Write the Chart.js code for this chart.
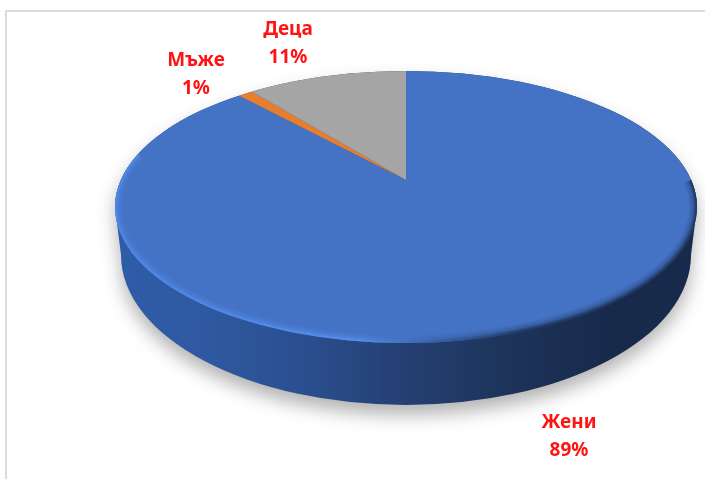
<!DOCTYPE html>
<html><head><meta charset="utf-8">
<style>html,body{margin:0;padding:0;background:#fff}canvas{display:block}</style>
<script src="https://cdn.jsdelivr.net/npm/chart.js@4"></script></head>
<body><canvas id="c" width="705" height="479"></canvas>
<script>
const categories = ['Жени', 'Мъже', 'Деца'];
const shares = [89, 1, 11];
const sliceColors = ['#4472c4', '#e67e2e', '#a5a5a5'];

// Drawing geometry of the tilted disc (not data)
const face = {cx: 406, cy: 207, rx: 291, ry: 136};
const base = {cx: 406, cy: 255, rx: 285, ry: 150};
const tilt = 136 / 291;
const labelCentres = [[569, 423], [196, 61], [288, 30]];

function wallPath(ctx) {
  ctx.beginPath();
  ctx.moveTo(face.cx - face.rx, face.cy);
  ctx.lineTo(base.cx - base.rx, base.cy);
  ctx.ellipse(base.cx, base.cy, base.rx, base.ry, 0, Math.PI, 0, true);
  ctx.lineTo(face.cx + face.rx, face.cy);
  ctx.ellipse(face.cx, face.cy, face.rx, face.ry, 0, 0, Math.PI, true);
  ctx.closePath();
}

const disc3d = {
  id: 'disc3d',
  beforeDraw(chart) {
    const ctx = chart.ctx;
    ctx.save();
    ctx.fillStyle = '#fff';
    ctx.fillRect(0, 0, 705, 479);
    ctx.fillStyle = '#dcdcdc';
    ctx.fillRect(5, 10, 700, 2);
    ctx.fillRect(5, 10, 2, 469);
    ctx.restore();
  },
  beforeDatasetsDraw(chart) {
    const ctx = chart.ctx;
    // soft shadow + side wall
    const g = ctx.createLinearGradient(115, 0, 697, 0);
    g.addColorStop(0, '#2f5ca8');
    g.addColorStop(0.14, '#2f5aa2');
    g.addColorStop(0.32, '#2b4f90');
    g.addColorStop(0.5, '#243f72');
    g.addColorStop(0.68, '#1d3359');
    g.addColorStop(0.85, '#182a4c');
    g.addColorStop(1, '#182a4c');
    ctx.save();
    ctx.shadowColor = 'rgba(0,0,0,0.3)';
    ctx.shadowBlur = 18;
    ctx.shadowOffsetY = 10;
    ctx.fillStyle = g;
    wallPath(ctx);
    ctx.fill();
    ctx.restore();

    // pie arcs from the library, tilted and trimmed to the disc's top face
    const arc = chart.getDatasetMeta(0).data[0];
    ctx.save();
    ctx.beginPath();
    ctx.ellipse(face.cx, face.cy, face.rx, face.ry, 0, 0, Math.PI * 2);
    ctx.clip();
    ctx.translate(arc.x, arc.y);
    ctx.scale(1, tilt);
    ctx.translate(-arc.x, -arc.y);
  },
  afterDatasetsDraw(chart) {
    const ctx = chart.ctx;
    ctx.restore();
    // bevel along the front edge of the top face
    ctx.save();
    ctx.beginPath();
    ctx.ellipse(face.cx, face.cy, face.rx, face.ry, 0, 0, Math.PI * 2);
    ctx.clip();
    const layers = [[16, 0.1], [12, 0.14], [8, 0.24], [5, 0.35], [3, 0.45]];
    for (const [w, a] of layers) {
      const s = ctx.createLinearGradient(115, 0, 697, 0);
      s.addColorStop(0, `rgba(80,140,235,${a})`);
      s.addColorStop(0.42, `rgba(88,148,245,${a})`);
      s.addColorStop(0.56, `rgba(50,86,150,${a})`);
      s.addColorStop(0.7, `rgba(24,42,76,${a})`);
      s.addColorStop(1, `rgba(24,42,76,${a})`);
      ctx.strokeStyle = s;
      ctx.lineWidth = w;
      ctx.beginPath();
      ctx.ellipse(face.cx, face.cy, face.rx, face.ry, 0, -0.2, Math.PI + 0.4);
      ctx.stroke();
    }
    ctx.restore();
  },
  afterDraw(chart) {
    const ctx = chart.ctx;
    ctx.save();
    ctx.fillStyle = '#ff1414';
    ctx.font = 'bold 19px "Noto Sans"';
    ctx.textAlign = 'center';
    ctx.textBaseline = 'middle';
    categories.forEach((name, i) => {
      const [x, y] = labelCentres[i];
      ctx.fillText(name, x, y);
      ctx.fillText(shares[i] + '%', x, y + 28);
    });
    ctx.restore();
  }
};

new Chart(document.getElementById('c'), {
  type: 'pie',
  data: {
    labels: categories,
    datasets: [{
      data: shares,
      backgroundColor: sliceColors,
      borderWidth: 0,
      clip: false
    }]
  },
  options: {
    responsive: false,
    animation: false,
    radius: 360,
    layout: {padding: {left: 107, right: 0, top: 0, bottom: 119}},
    plugins: {legend: {display: false}, tooltip: {enabled: false}}
  },
  plugins: [disc3d]
});
</script></body></html>
